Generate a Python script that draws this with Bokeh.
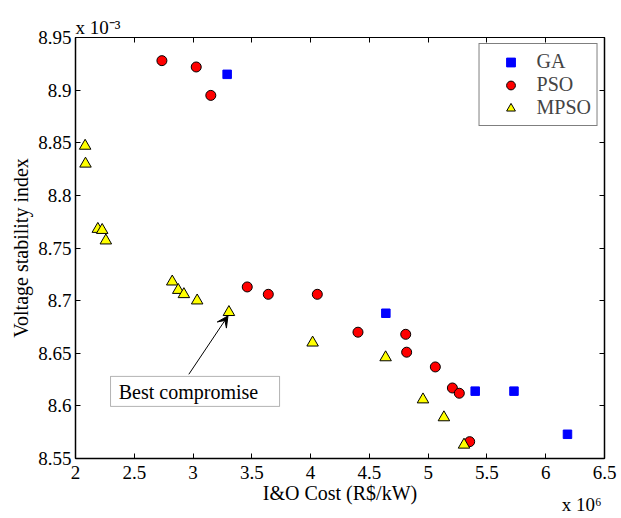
from bokeh.plotting import figure
from bokeh.models import (Range1d, LinearAxis, FixedTicker, Label, Arrow, VeeHead,
                          BoxAnnotation, Legend, LegendItem, Title)
from bokeh.embed import file_html
from bokeh.resources import INLINE

# Data (cost in 1e6 R$/kW, voltage stability index in 1e-3)
ga_cost = [3.29, 4.64, 5.40, 5.73, 6.185]
ga_vsi = [8.915, 8.688, 8.614, 8.614, 8.573]
pso_cost = [2.735, 3.027, 3.151, 3.461, 3.640, 4.057, 4.403, 4.809, 4.817, 5.061, 5.206, 5.265, 5.353]
pso_vsi = [8.928, 8.922, 8.895, 8.713, 8.706, 8.706, 8.670, 8.668, 8.651, 8.637, 8.617, 8.612, 8.566]
mpso_cost = [2.082, 2.085, 2.19, 2.227, 2.258, 2.823, 2.874, 2.922, 3.035, 3.305, 4.017, 4.638, 4.956, 5.134, 5.305]
mpso_vsi = [8.847, 8.830, 8.768, 8.767, 8.757, 8.718, 8.710, 8.706, 8.700, 8.689, 8.660, 8.646, 8.606, 8.589, 8.563]

x_ticks = [2, 2.5, 3, 3.5, 4, 4.5, 5, 5.5, 6, 6.5]
x_tick_labels = ["2", "2.5", "3", "3.5", "4", "4.5", "5", "5.5", "6", "6.5"]
y_ticks = [8.55, 8.6, 8.65, 8.7, 8.75, 8.8, 8.85, 8.9, 8.95]
y_tick_labels = ["8.55", "8.6", "8.65", "8.7", "8.75", "8.8", "8.85", "8.9", "8.95"]

FONT = "Liberation Serif"

p = figure(width=621, height=518, x_range=Range1d(2, 6.5), y_range=Range1d(8.55, 8.95),
           output_backend="svg", toolbar_location=None,
           min_border_left=75, min_border_right=17, min_border_top=37, min_border_bottom=60,
           x_axis_label="I&O Cost (R$/kW)", y_axis_label="Voltage stability index")
p.grid.visible = False
p.outline_line_color = "black"
p.outline_line_width = 1
p.background_fill_color = "white"
p.border_fill_color = "white"

# y multiplier as the title (top-left)
p.title.text = "x 10\u207b\u00b3"
p.title.align = "left"
p.title.text_font = FONT
p.title.text_font_size = "19px"
p.title.text_font_style = "normal"
p.title.text_color = "black"
p.title.standoff = 0


def style_axis(ax, ticks, labels, show_labels=True):
    ax.ticker = FixedTicker(ticks=ticks)
    ax.major_label_overrides = {t: l for t, l in zip(ticks, labels)}
    ax.major_tick_in = 5
    ax.major_tick_out = 0
    ax.minor_tick_in = 0
    ax.minor_tick_out = 0
    ax.axis_line_color = "black"
    ax.axis_line_width = 1.5
    ax.major_tick_line_color = "black"
    ax.major_tick_line_width = 1
    ax.major_label_text_font = FONT
    if show_labels:
        ax.major_label_text_font_size = "19px"
        ax.major_label_text_color = "black"
    else:
        ax.major_label_text_font_size = "0px"
        ax.major_label_text_color = None
    ax.axis_label_text_font = FONT
    ax.axis_label_text_font_size = "20px"
    ax.axis_label_text_font_style = "normal"
    ax.axis_label_text_color = "black"


style_axis(p.xaxis[0], x_ticks, x_tick_labels)
style_axis(p.yaxis[0], y_ticks, y_tick_labels)
p.xaxis[0].major_label_standoff = 7
p.xaxis[0].axis_label_standoff = 0
p.yaxis[0].major_label_standoff = 4
p.yaxis[0].axis_label_standoff = 3

top_ax = LinearAxis(axis_label=None, major_label_standoff=0)
style_axis(top_ax, x_ticks, x_tick_labels, show_labels=False)
top_ax.axis_line_width = 1
right_ax = LinearAxis(axis_label=None, major_label_standoff=0)
style_axis(right_ax, y_ticks, y_tick_labels, show_labels=False)
p.add_layout(top_ax, "above")
p.add_layout(right_ax, "right")

# x multiplier (bottom-right)
x_mult = Title(text="x 10\u2076", align="right", text_font=FONT, text_font_size="19px",
               text_font_style="normal", text_color="black", standoff=-29)
try:
    x_mult.padding = dict(left=0, right=3, top=0, bottom=8)
except Exception:
    try:
        x_mult.padding = (0, 3, 8, 0)
    except Exception:
        pass
p.add_layout(x_mult, "below")

r_ga = p.scatter(ga_cost, ga_vsi, marker="square", size=8.5, fill_color="#0000ff",
                 line_color="#0000ff", line_width=1)
r_pso = p.scatter(pso_cost, pso_vsi, marker="circle", size=10, fill_color="#ff0000",
                  line_color="#000000", line_width=1)
r_mpso = p.scatter(mpso_cost, mpso_vsi, marker="triangle", size=11.5, fill_color="#ffff00",
                   line_color="#000000", line_width=1)

legend = Legend(items=[LegendItem(label="GA", renderers=[r_ga]),
                       LegendItem(label="PSO", renderers=[r_pso]),
                       LegendItem(label="MPSO", renderers=[r_mpso])],
                location="top_right", margin=6, padding=6, spacing=0,
                glyph_width=50, glyph_height=22, label_height=22, label_standoff=1,
                label_text_font=FONT, label_text_font_size="20px",
                border_line_color="black", border_line_width=1.2,
                background_fill_color="white", background_fill_alpha=1)
p.add_layout(legend, "center")

# Annotation: best compromise
p.add_layout(BoxAnnotation(left=2.298, right=3.736, bottom=8.5995, top=8.628,
                           fill_color="white", fill_alpha=1, line_color="black",
                           line_width=1, level="annotation"))
p.add_layout(Label(x=2.368, y=8.6135, text="Best compromise", text_font=FONT,
                   text_font_size="20px", text_baseline="middle", text_color="black"))
p.add_layout(Arrow(x_start=2.964, y_start=8.630, x_end=3.297, y_end=8.6855,
                   line_color="black", line_width=1,
                   end=VeeHead(size=11, fill_color="black", line_color="black")))

open("out.html", "w").write(file_html(p, INLINE))
